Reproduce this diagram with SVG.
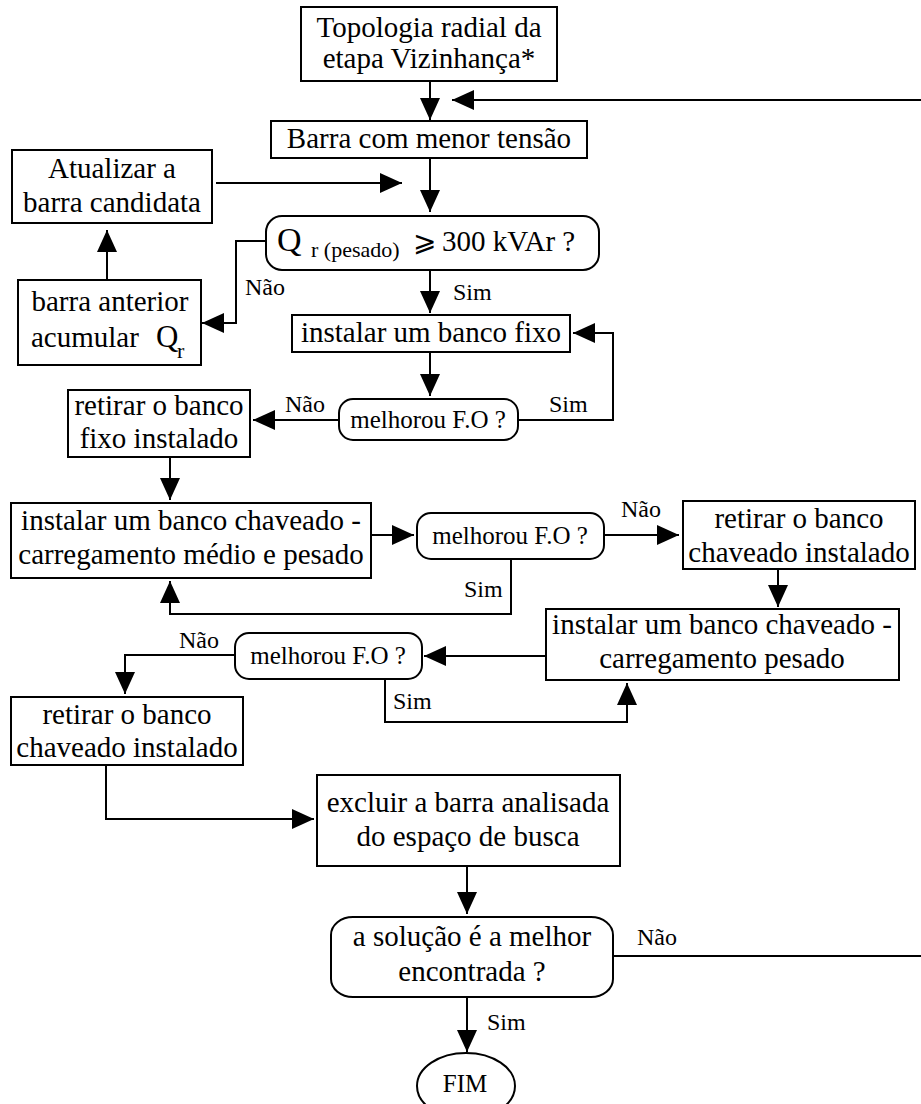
<svg xmlns="http://www.w3.org/2000/svg" width="921" height="1104" viewBox="0 0 921 1104">
  <style>
    .box { fill: #fff; stroke: #000; stroke-width: 2; }
    .t { font-family: "Liberation Serif", "Times New Roman", "DejaVu Serif", serif; font-size: 29px; fill: #000; text-anchor: middle; }
    .d { font-family: "Liberation Serif", "Times New Roman", serif; font-size: 25px; fill: #000; text-anchor: middle; }
    .lbl { font-family: "Liberation Serif", "Times New Roman", serif; font-size: 24px; fill: #000; }
    .q { font-family: "Liberation Serif", "Times New Roman", "DejaVu Serif", serif; fill: #000; }
    .c { fill: none; stroke: #000; stroke-width: 2; marker-end: url(#arrow); }
  </style>
  <defs>
    <marker id="arrow" markerUnits="userSpaceOnUse" markerWidth="22" markerHeight="20" refX="22" refY="10" orient="auto">
      <path d="M0,0 L22,10 L0,20 Z" fill="#000"/>
    </marker>
  </defs>
  <rect width="921" height="1104" fill="#fff"/>

  <!-- connectors -->
  <g id="connectors">
    <path class="c" d="M430,81 V120"/>
    <path class="c" d="M613,956 H930 V100 H452"/>
    <path class="c" d="M430,158 V212"/>
    <path class="c" d="M216,183 H402"/>
    <path class="c" d="M266,241 H236 V323 H202"/>
    <path class="c" d="M107,280 V230"/>
    <path class="c" d="M430,270 V313"/>
    <path class="c" d="M430,352 V396"/>
    <path class="c" d="M518,420 H613 V333 H573"/>
    <path class="c" d="M339,420 H253"/>
    <path class="c" d="M170,457 V500"/>
    <path class="c" d="M371,535 H414"/>
    <path class="c" d="M604,535 H679"/>
    <path class="c" d="M511,559 V614 H170 V581"/>
    <path class="c" d="M778,569 V607"/>
    <path class="c" d="M546,656 H424"/>
    <path class="c" d="M235,655 H125 V694"/>
    <path class="c" d="M385,679 V722 H627 V683"/>
    <path class="c" d="M106,765 V819 H314"/>
    <path class="c" d="M467,866 V914"/>
    <path class="c" d="M467,997 V1052"/>
    <!-- branch labels -->
    <text class="lbl" x="245" y="295">Não</text>
    <text class="lbl" x="453" y="300">Sim</text>
    <text class="lbl" x="285" y="412">Não</text>
    <text class="lbl" x="549" y="412">Sim</text>
    <text class="lbl" x="621" y="517">Não</text>
    <text class="lbl" x="464" y="597">Sim</text>
    <text class="lbl" x="179" y="648">Não</text>
    <text class="lbl" x="393" y="709">Sim</text>
    <text class="lbl" x="637" y="945">Não</text>
    <text class="lbl" x="487" y="1030">Sim</text>
  </g>

  <g id="inicio">
    <rect class="box" x="301" y="7" width="256" height="74"/>
    <text class="t" x="429" y="37">Topologia radial da</text>
    <text class="t" x="429" y="68">etapa Vizinhança*</text>
  </g>

  <g id="barra-menor-tensao">
    <rect class="box" x="271" y="121" width="316" height="37"/>
    <text class="t" x="429" y="148">Barra com menor tensão</text>
  </g>

  <g id="atualizar-barra">
    <rect class="box" x="12" y="150" width="200" height="73"/>
    <text class="t" x="112" y="178">Atualizar a</text>
    <text class="t" x="112" y="212">barra candidata</text>
  </g>

  <g id="teste-qr">
    <rect class="box" x="266" y="216" width="333" height="54" rx="16" ry="16"/>
    <text class="q" y="251"><tspan x="277" font-size="34">Q</tspan><tspan x="311" y="257" font-size="22">r (pesado)</tspan><tspan x="413" y="251" font-size="28">⩾</tspan><tspan x="442" font-size="29">300 kVAr ?</tspan></text>
  </g>

  <g id="barra-anterior">
    <rect class="box" x="18" y="280" width="183" height="85"/>
    <text class="t" x="110" y="311">barra anterior</text>
    <text class="q" y="347"><tspan x="31" font-size="29">acumular</tspan><tspan x="156" font-size="31">Q</tspan><tspan x="177" y="358" font-size="22">r</tspan></text>
  </g>

  <g id="instalar-fixo">
    <rect class="box" x="292" y="315" width="278" height="37"/>
    <text class="t" x="431" y="342">instalar um banco fixo</text>
  </g>

  <g id="melhorou-1">
    <rect class="box" x="339" y="399" width="179" height="41" rx="14" ry="14"/>
    <text class="d" x="428" y="428">melhorou F.O ?</text>
  </g>

  <g id="retirar-fixo">
    <rect class="box" x="68" y="390" width="182" height="67"/>
    <text class="t" x="159" y="415">retirar o banco</text>
    <text class="t" x="159" y="448">fixo instalado</text>
  </g>

  <g id="instalar-chaveado-medio">
    <rect class="box" x="11" y="503" width="360" height="75"/>
    <text class="t" x="191" y="530">instalar um banco chaveado -</text>
    <text class="t" x="191" y="564">carregamento médio e pesado</text>
  </g>

  <g id="melhorou-2">
    <rect class="box" x="417" y="513" width="187" height="46" rx="14" ry="14"/>
    <text class="d" x="510" y="544">melhorou F.O ?</text>
  </g>

  <g id="retirar-chaveado-1">
    <rect class="box" x="683" y="501" width="232" height="68"/>
    <text class="t" x="799" y="528">retirar o banco</text>
    <text class="t" x="799" y="562">chaveado instalado</text>
  </g>

  <g id="instalar-chaveado-pesado">
    <rect class="box" x="546" y="609" width="353" height="71"/>
    <text class="t" x="722" y="634">instalar um banco chaveado -</text>
    <text class="t" x="722" y="668">carregamento pesado</text>
  </g>

  <g id="melhorou-3">
    <rect class="box" x="235" y="633" width="187" height="46" rx="14" ry="14"/>
    <text class="d" x="328" y="664">melhorou F.O ?</text>
  </g>

  <g id="retirar-chaveado-2">
    <rect class="box" x="11" y="697" width="232" height="68"/>
    <text class="t" x="127" y="724">retirar o banco</text>
    <text class="t" x="127" y="757">chaveado instalado</text>
  </g>

  <g id="excluir-barra">
    <rect class="box" x="317" y="775" width="303" height="91"/>
    <text class="t" x="468" y="812">excluir a barra analisada</text>
    <text class="t" x="468" y="846">do espaço de busca</text>
  </g>

  <g id="melhor-solucao">
    <rect class="box" x="331" y="917" width="282" height="80" rx="22" ry="18"/>
    <text class="t" x="472" y="946">a solução é a melhor</text>
    <text class="t" x="472" y="981">encontrada ?</text>
  </g>

  <g id="fim">
    <ellipse class="box" cx="466" cy="1086" rx="49" ry="33"/>
    <text class="d" x="465" y="1092" font-size="26">FIM</text>
  </g>
</svg>
